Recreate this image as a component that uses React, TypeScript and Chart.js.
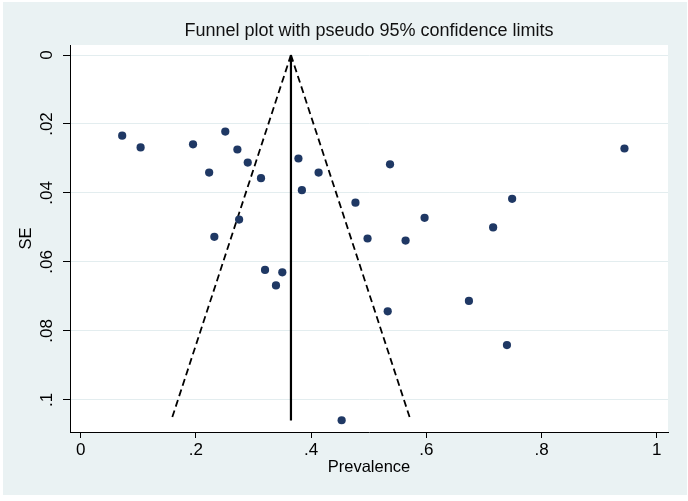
import React, { useEffect, useRef } from "react";
import { Chart, registerables } from "chart.js";

Chart.register(...registerables);

const prevalence = [0.072, 0.104, 0.195, 0.251, 0.272, 0.290, 0.223, 0.313, 0.378, 0.413, 0.384, 0.477, 0.275, 0.232, 0.320, 0.350, 0.339, 0.944, 0.537, 0.749, 0.597, 0.716, 0.498, 0.564, 0.533, 0.674, 0.740, 0.453];
const seValues = [0.0234, 0.0268, 0.0259, 0.0222, 0.0274, 0.0312, 0.0341, 0.0357, 0.0300, 0.0341, 0.0392, 0.0428, 0.0477, 0.0527, 0.0623, 0.0630, 0.0668, 0.0271, 0.0317, 0.0417, 0.0472, 0.0500, 0.0532, 0.0538, 0.0743, 0.0713, 0.0841, 0.1059];

const pooled = 0.365;
const seRange = [0, 0.106];
const lowerLimitX = [0.365, 0.157];
const upperLimitX = [0.365, 0.573];
const pooledX = [pooled, pooled];

const xTicks = [0, 0.2, 0.4, 0.6, 0.8, 1];
const yTicks = [0, 0.02, 0.04, 0.06, 0.08, 0.1];

const TITLE = "Funnel plot with pseudo 95% confidence limits";
const FONT = "'Liberation Sans', Arial, sans-serif";
const BG = "#eaf2f3";

const fmt = (v: number) => {
  const s = String(+Number(v).toFixed(4));
  return s.replace(/^0\./, ".");
};

export default function App() {
  const ref = useRef<HTMLCanvasElement | null>(null);
  useEffect(() => {
    if (!ref.current) return;
    const bgPlugin = {
      id: "bg",
      beforeDraw(chart: any) {
        const { ctx, chartArea } = chart;
        ctx.save();
        ctx.fillStyle = "#ffffff";
        ctx.fillRect(0, 0, chart.width, chart.height);
        ctx.fillStyle = BG;
        ctx.fillRect(3, 2, 684, 493);
        ctx.fillStyle = "#ffffff";
        ctx.fillRect(chartArea.left, chartArea.top, chartArea.right - chartArea.left, chartArea.bottom - chartArea.top);
        ctx.restore();
      },
      afterDraw(chart: any) {
        const { ctx } = chart;
        const ys = chart.scales.y;
        ctx.save();
        ctx.fillStyle = "#000";
        ctx.font = `17px ${FONT}`;
        ctx.textAlign = "center";
        ctx.textBaseline = "middle";
        ys.ticks.forEach((t: any) => {
          const py = ys.getPixelForValue(t.value);
          ctx.save();
          ctx.translate(47, py);
          ctx.rotate(-Math.PI / 2);
          ctx.fillText(fmt(t.value), 0, 0);
          ctx.restore();
        });
        ctx.restore();
      },
    };
    const toPts = (xs: number[], ys: number[]) => xs.map((x, i) => ({ x, y: ys[i] }));
    const chart = new Chart(ref.current, {
      type: "scatter",
      data: {
        datasets: [
          {
            label: "Studies",
            data: toPts(prevalence, seValues),
            backgroundColor: "#1f3864",
            borderColor: "#1f3864",
            pointRadius: 4.1,
            pointBorderWidth: 0,
          },
          {
            label: "Lower limit",
            data: toPts(lowerLimitX, seRange),
            showLine: true,
            borderColor: "#000",
            borderWidth: 1.8,
            borderDash: [7, 4],
            pointRadius: 0,
          },
          {
            label: "Upper limit",
            data: toPts(upperLimitX, seRange),
            showLine: true,
            borderColor: "#000",
            borderWidth: 1.8,
            borderDash: [7, 4],
            pointRadius: 0,
          },
          {
            label: "Pooled",
            data: toPts(pooledX, seRange),
            showLine: true,
            borderColor: "#000",
            borderWidth: 2.2,
            pointRadius: 0,
          },
        ],
      },
      options: {
        animation: false,
        responsive: false,
        devicePixelRatio: 1,
        layout: { padding: { left: 0, right: 20, top: 0, bottom: 0 } },
        plugins: {
          legend: { display: false },
          tooltip: { enabled: false },
          title: {
            display: true,
            text: TITLE,
            fullSize: false,
            color: "#111",
            font: { family: FONT, size: 18, weight: "normal" },
            padding: { top: 20, bottom: 3.4 },
          },
        },
        scales: {
          x: {
            type: "linear",
            min: -0.0186,
            max: 1.0196,
            afterBuildTicks: (s: any) => {
              s.ticks = xTicks.map((v) => ({ value: v }));
            },
            afterFit: (s: any) => {
              s.height = 69;
            },
            ticks: {
              color: "#000",
              font: { family: FONT, size: 17 },
              padding: 2,
              maxRotation: 0,
              minRotation: 0,
              callback: (v: any) => fmt(v),
            },
            grid: {
              drawOnChartArea: false,
              drawTicks: true,
              tickLength: 6,
              tickColor: "#000",
              tickWidth: 1,
            },
            border: { display: true, color: "#000", width: 1 },
            title: {
              display: true,
              text: "Prevalence",
              color: "#000",
              font: { family: FONT, size: 16.5 },
              padding: { top: 0, bottom: 24 },
            },
          },
          y: {
            type: "linear",
            reverse: true,
            min: -0.0029,
            max: 0.1093,
            afterBuildTicks: (s: any) => {
              s.ticks = yTicks.map((v) => ({ value: v }));
            },
            afterFit: (s: any) => {
              s.width = 70;
            },
            ticks: {
              color: "rgba(0,0,0,0)",
              font: { family: FONT, size: 16 },
              callback: (v: any) => fmt(v),
            },
            grid: {
              color: "#e3edef",
              lineWidth: 1,
              drawTicks: true,
              tickLength: 7,
              tickColor: "#000",
              tickWidth: 1,
            },
            border: { display: true, color: "#000", width: 1 },
            title: {
              display: true,
              text: "SE",
              color: "#000",
              font: { family: FONT, size: 16.5 },
              padding: { top: 17, bottom: 0 },
            },
          },
        },
      },
      plugins: [bgPlugin],
    } as any);
    return () => chart.destroy();
  }, []);
  return (
    <div style={{ position: "fixed", left: 0, top: 0, width: 688, height: 501 }}>
      <canvas ref={ref} width={688} height={501} />
    </div>
  );
}
